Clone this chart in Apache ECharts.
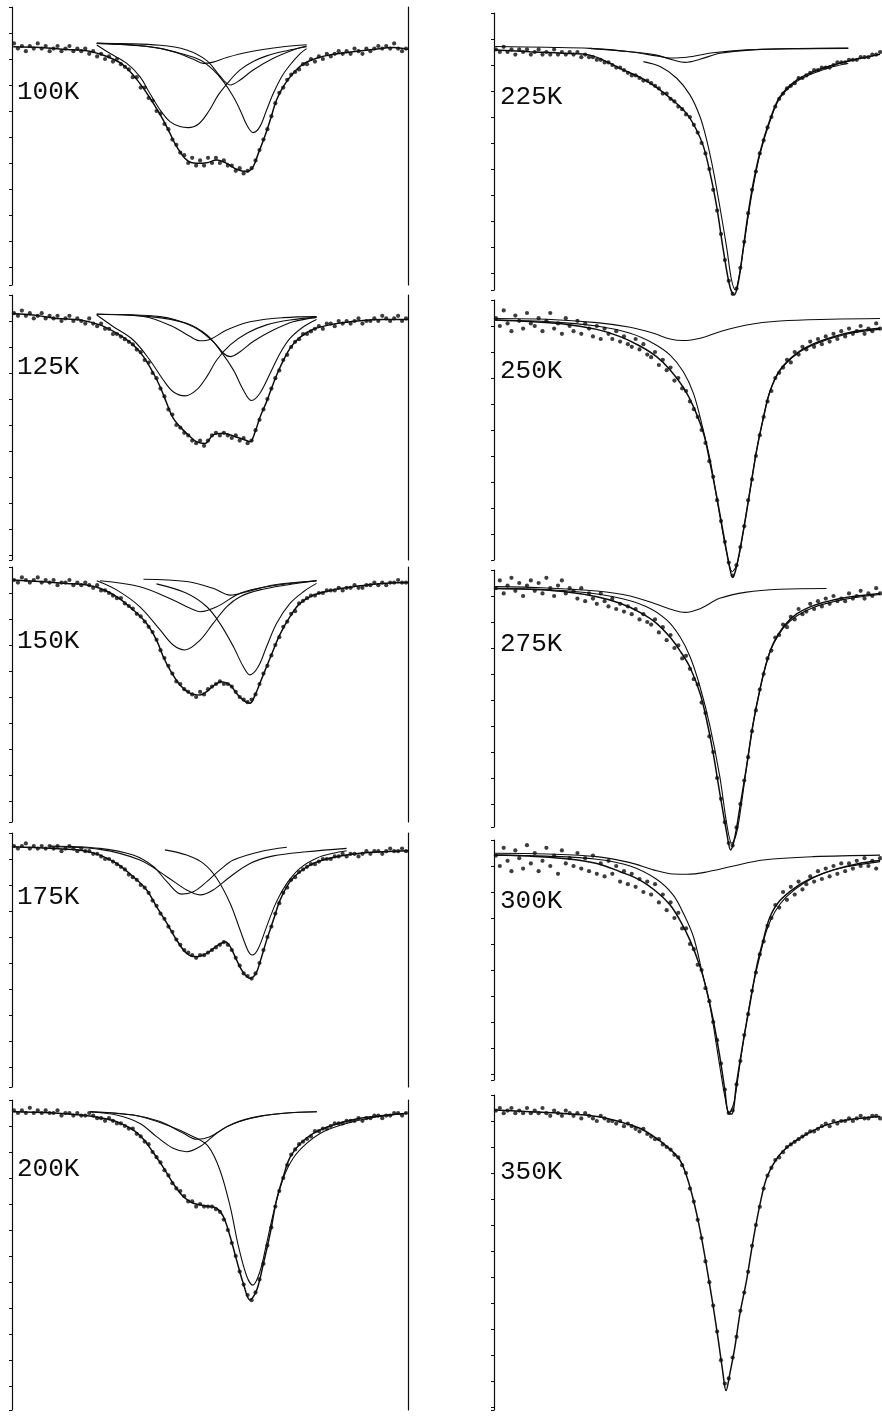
<!DOCTYPE html>
<html><head><meta charset="utf-8">
<script src="https://cdn.jsdelivr.net/npm/echarts@6/dist/echarts.min.js"></script>
<style>html,body{margin:0;padding:0;background:#fff}#c{width:882px;height:1418px}</style>
</head><body><div id="c"></div>
<script>
// channel positions (x, arbitrary velocity channel 0-100)
const channels = Array.from({length: 100}, (_, i) => i + 0.5);
const temps = ['100K','125K','150K','175K','200K','225K','250K','275K','300K','350K'];

// ---- measured spectra (absorption, arb. units, 10 units per tick) ----
const d100 = [14,16,15,17,15,16,14,16,15,17,16,15,17,16,15,17,16,17,16,18,17,19,18,20,19,21,20,22,23,24,27,27,31,31,35,36,40,41,45,47,51,53,56,57,60,58,61,59,61,58,60,58,60,59,61,61,63,62,64,63,62,59,55,51,47,42,37,33,31,28,26,25,24,22,22,20,21,19,20,18,19,18,17,18,17,18,16,17,18,16,17,16,15,16,15,16,14,16,17,16];
const d125 = [7,8,6,8,7,9,8,7,9,8,9,8,10,9,8,10,9,10,11,9,11,12,11,13,13,15,15,16,17,18,19,21,22,25,26,30,32,36,39,44,46,50,51,53,54,56,57,56,58,56,54,53,54,53,54,55,54,56,55,57,56,52,48,44,40,36,32,29,25,23,20,18,17,15,15,14,13,12,13,11,11,12,10,11,10,11,10,9,11,10,10,9,10,8,9,10,9,8,10,9];
const d150 = [5,6,4,5,6,5,4,6,5,6,5,7,6,6,5,7,6,7,6,7,8,7,9,9,10,11,12,12,14,15,16,18,19,21,23,25,28,32,35,38,41,44,45,47,48,49,50,48,49,47,46,45,44,45,45,46,48,50,51,52,51,49,45,41,38,34,30,27,23,21,18,17,14,13,12,11,11,10,10,9,9,9,8,9,8,8,7,8,8,7,7,6,7,6,7,6,6,5,6,6];
const d175 = [5,6,5,4,6,5,6,5,6,5,6,5,7,6,5,6,7,6,7,7,8,8,9,10,10,11,12,13,14,16,17,18,20,21,23,26,28,31,33,36,38,41,43,45,46,47,48,47,47,46,45,44,43,42,43,45,48,51,54,55,56,54,50,45,40,36,31,27,23,21,18,17,15,14,13,12,12,11,10,10,10,9,9,8,9,8,8,9,8,7,8,7,7,8,7,6,7,7,6,7];
const d200 = [4,5,4,5,3,5,4,5,4,5,5,4,6,5,5,6,5,6,6,5,6,7,7,8,7,8,9,9,10,11,11,13,14,16,17,20,22,24,27,29,32,34,35,37,39,39,41,40,41,41,41,42,43,46,50,55,60,66,71,75,77,74,69,63,56,49,41,35,30,25,21,19,17,16,15,14,12,12,11,11,10,9,9,9,8,8,8,7,8,7,7,6,6,7,6,6,5,5,6,5];
const d225 = [14,15,13,15,14,16,14,15,14,16,15,14,16,15,16,14,16,15,16,15,16,15,17,16,17,17,18,18,19,19,20,21,21,22,23,24,24,25,26,26,27,28,29,31,31,33,34,36,37,39,40,43,46,50,54,60,68,76,85,95,103,108,106,98,88,77,68,61,54,49,44,40,36,33,31,29,28,27,25,25,24,23,22,22,21,21,21,20,19,19,19,18,18,18,17,17,17,16,16,15];
const d250 = [7,10,4,9,12,6,8,11,5,9,10,7,12,8,5,11,9,13,7,10,12,8,13,9,11,14,10,15,11,13,15,12,16,14,17,18,15,19,17,21,22,20,25,23,27,26,31,30,34,35,39,42,45,50,55,62,68,77,85,93,101,106,102,95,87,77,69,60,52,45,39,35,30,28,26,23,24,20,21,18,19,16,18,15,17,14,16,13,15,12,14,11,13,12,10,13,11,12,9,11];
const d275 = [7,4,9,6,3,8,5,10,6,4,8,5,9,3,7,10,6,4,9,7,8,11,7,12,9,11,13,9,12,14,11,15,13,16,14,17,15,19,17,20,21,19,24,22,27,25,30,29,34,33,38,42,44,51,55,64,70,80,88,97,105,106,99,90,81,72,62,54,46,40,34,31,26,25,21,22,18,19,15,17,16,13,15,12,14,11,13,10,12,11,12,9,11,10,8,11,9,10,7,9];
const d300 = [6,10,3,8,12,4,7,11,2,9,5,12,8,3,10,6,13,4,9,7,10,5,11,7,12,6,13,9,14,8,13,10,16,12,17,13,18,15,20,16,21,17,24,21,27,24,30,28,34,34,40,42,48,50,57,62,70,77,86,96,105,104,94,85,75,67,58,51,44,39,33,30,25,26,20,23,18,21,16,19,17,14,16,12,15,11,14,10,13,9,12,9,11,8,10,7,10,8,11,7];
const d350 = [6,5,7,6,5,7,6,7,5,7,6,7,5,7,8,6,7,8,6,7,8,7,9,7,8,9,10,8,9,10,10,11,10,12,11,12,13,14,13,15,16,17,17,19,20,21,23,24,27,30,36,41,48,55,64,72,81,91,102,111,109,101,93,83,76,68,58,50,43,36,31,28,25,24,22,20,19,18,17,16,15,14,14,13,12,11,12,10,11,10,10,9,10,9,8,9,9,8,8,9];

// ---- fitted envelopes and sub-spectra [x, absorption] ----
const fit100 = [[0.3,15.3],[7.1,15.6],[13.8,16.3],[18.9,16.8],[22.2,18.1],[25.6,20.1],[28.1,22.3],[30.6,26.2],[33.2,31.3],[35.7,37.1],[38.2,43.5],[39.9,48.6],[41.6,53.7],[44.1,58.8],[46.6,60.1],[49.2,59.9],[51.7,58.8],[54.2,60.1],[56.7,62.4],[59.3,63.3],[60.9,61.4],[62.2,56.3],[63.5,51.2],[65.2,43.5],[66.8,35.8],[68.5,30.6],[71.0,25.5],[73.6,21.9],[76.9,19.7],[81.1,18.2],[86.2,17.2],[91.2,16.3],[96.3,15.6],[100,16.3]];
const c100L = [[21.4,14.6],[24.7,17.8],[29.0,21.7],[32.3,26.8],[34.8,33.2],[37.4,39.6],[39.9,44.1],[42.4,46.0],[44.5,46.4],[47.1,45.0],[49.6,40.3],[52.1,33.8],[55.1,28.1],[57.6,24.2],[60.9,21.0],[64.3,18.8],[69.4,16.8],[74.4,15.3]];
const c100R = [[21.4,14.0],[30.6,14.6],[37.4,15.9],[42.4,17.8],[47.5,20.4],[50.8,24.2],[53.4,28.7],[55.9,34.5],[57.6,39.6],[59.3,45.4],[60.9,48.3],[62.6,46.0],[64.3,39.6],[66.0,33.2],[68.1,26.8],[70.2,22.3],[72.7,18.0],[74.4,16.0]];
const c100A = [[21.4,14.0],[34.8,15.3],[41.6,17.6],[45.8,20.1],[48.3,21.7],[50.8,21.2],[54.2,19.4],[60.1,17.2],[68.5,15.3],[74.4,14.5]];
const c100B = [[21.4,14.0],[37.4,14.7],[44.1,16.5],[49.2,20.6],[52.5,26.5],[55.1,30.0],[57.6,28.1],[60.9,24.2],[66.0,19.7],[71.0,16.5],[74.4,15.0]];

const fit125 = [[0.3,7.1],[5.4,7.7],[11.3,9.0],[17.2,9.6],[22.2,11.5],[26.4,14.7],[30.6,19.2],[33.2,23.7],[35.7,30.1],[37.4,35.3],[39.1,41.7],[40.7,47.4],[42.8,51.3],[45.0,54.5],[46.6,56.4],[48.7,57.1],[50.8,53.8],[53.4,53.2],[55.9,54.2],[58.4,55.5],[60.1,56.4],[61.4,52.6],[62.6,47.1],[64.3,41.0],[66.0,34.0],[67.7,27.8],[70.2,20.5],[72.7,16.3],[76.1,13.2],[81.1,11.2],[87.9,9.9],[93.8,9.4],[100,9.4]];
const c125L = [[21.4,7.7],[25.6,12.2],[30.6,17.3],[34.8,25.0],[38.2,32.7],[40.7,37.2],[43.7,38.8],[46.6,36.5],[49.2,31.4],[51.7,25.0],[55.1,19.2],[59.3,14.7],[64.3,11.5],[70.2,9.6],[76.9,8.6]];
const c125R = [[21.4,7.4],[34.8,8.3],[44.1,10.9],[49.2,15.4],[52.5,21.2],[55.9,28.8],[58.4,36.5],[60.5,40.6],[62.6,37.8],[65.2,30.1],[67.7,22.4],[70.2,16.7],[73.6,12.2],[76.9,9.4]];
const c125A = [[21.4,7.4],[33.2,8.3],[40.7,12.2],[45.0,16.0],[47.5,17.6],[50.0,17.1],[54.2,13.5],[60.1,10.3],[68.5,8.7],[76.9,8.3]];
const c125B = [[21.4,7.4],[37.4,8.3],[45.8,12.2],[50.8,17.9],[53.4,22.4],[55.1,23.7],[57.6,21.8],[60.9,17.9],[66.0,13.5],[71.0,10.3],[76.9,8.6]];

const fit150 = [[0.3,5.0],[7.1,5.6],[13.8,6.3],[18.9,6.9],[22.2,8.2],[26.4,11.4],[30.6,16.5],[34.0,21.7],[36.5,28.1],[38.2,34.5],[39.9,39.6],[42.4,45.4],[45.0,48.6],[47.5,49.2],[49.2,47.9],[50.8,45.8],[52.9,44.1],[55.1,45.4],[56.7,48.6],[58.4,51.2],[60.1,52.4],[61.4,49.2],[62.6,44.7],[64.3,38.3],[66.0,31.9],[67.7,25.8],[70.2,19.1],[72.7,14.0],[76.1,10.8],[81.1,8.8],[86.2,7.6],[92.1,6.5],[100,6.0]];
const c150L = [[21.4,5.3],[26.4,8.8],[32.3,15.3],[37.4,24.2],[40.7,30.0],[43.7,31.9],[47.5,28.1],[50.8,21.7],[54.2,15.3],[57.6,11.4],[62.6,8.8],[69.4,6.9],[76.9,5.3]];
const c150A = [[22.2,5.3],[32.3,7.6],[40.7,12.7],[45.0,15.9],[47.5,17.2],[51.7,15.3],[57.6,10.1],[64.3,7.6],[76.9,5.3]];
const c150R = [[36.5,6.5],[44.1,10.1],[49.2,15.3],[52.5,21.7],[55.9,30.6],[58.4,38.3],[60.1,41.5],[62.2,38.3],[64.3,30.6],[66.8,21.7],[70.2,14.0],[73.6,9.5],[76.9,6.3]];
const c150B = [[33.2,4.7],[44.1,5.6],[50.8,8.2],[55.1,10.8],[59.3,9.5],[66.0,6.9],[76.9,5.3]];

const fit175 = [[0.3,5.3],[9.6,5.9],[18.0,6.8],[22.2,8.5],[26.4,11.7],[30.6,16.8],[34.0,21.9],[36.5,28.3],[39.1,34.7],[41.6,41.2],[44.1,46.3],[46.6,47.6],[49.2,46.3],[51.7,43.5],[53.8,41.8],[55.1,43.7],[56.7,48.8],[58.4,53.7],[60.1,55.9],[61.6,54.0],[62.8,48.8],[64.3,41.2],[66.0,33.5],[67.7,25.8],[70.2,18.7],[72.7,14.9],[76.1,11.7],[81.1,9.4],[87.9,7.8],[93.8,7.2],[100,6.8]];
const c175A = [[9.6,5.0],[22.2,5.9],[30.6,8.5],[35.7,12.9],[39.1,18.7],[42.8,23.5],[45.8,22.6],[49.2,18.7],[52.5,14.2],[55.9,10.4],[62.6,7.2],[69.4,5.5]];
const c175B = [[9.6,5.3],[22.2,6.3],[32.3,10.4],[39.1,16.8],[44.1,21.9],[47.5,23.8],[50.8,21.9],[55.1,16.8],[60.1,11.7],[66.0,8.8],[74.4,7.2],[84.5,5.9]];
const c175R = [[38.6,6.5],[44.1,8.5],[48.3,11.7],[51.7,17.4],[55.1,27.1],[57.6,37.3],[59.7,45.6],[60.7,46.9],[62.2,44.4],[64.3,36.0],[66.8,26.4],[69.4,19.4],[72.7,13.6],[76.9,9.7],[81.1,7.8],[84.5,6.8]];

const fit200 = [[0.3,4.5],[9.6,4.9],[18.0,5.9],[22.2,6.8],[26.4,8.3],[30.6,11.5],[33.2,15.1],[35.7,20.3],[38.2,25.9],[40.7,32.1],[43.3,37.2],[45.8,39.7],[49.2,40.8],[51.7,41.7],[53.4,44.9],[55.1,52.6],[56.7,61.5],[58.4,70.5],[60.1,76.9],[61.8,73.1],[63.5,62.8],[65.2,51.3],[66.8,38.5],[68.5,29.5],[70.2,22.1],[72.7,16.9],[76.1,12.8],[81.1,9.6],[87.0,7.3],[93.8,6.0],[99.7,5.1]];
const c200L = [[19.7,4.5],[26.4,5.8],[32.3,9.0],[36.5,14.1],[40.7,18.6],[44.1,19.9],[47.5,17.9],[51.7,12.8],[55.9,9.0],[62.6,6.2],[70.2,4.9],[77.0,4.5]];
const c200S = [[19.7,4.5],[30.6,5.8],[37.4,8.3],[43.3,12.8],[46.6,15.1],[50.0,14.1],[54.2,10.3],[60.1,7.1],[68.5,5.1],[77.0,4.5]];
const c200R = [[19.7,4.5],[30.6,5.8],[39.1,9.6],[45.8,14.1],[49.6,17.9],[52.5,26.9],[55.1,41.0],[57.2,56.4],[59.3,67.9],[60.8,71.2],[62.6,66.0],[64.3,55.1],[66.4,41.0],[68.5,30.1],[71.0,22.4],[74.4,16.7],[78.6,12.2],[84.5,9.0],[91.2,6.7],[99.7,5.1]];

const fit225 = [[0.3,14.2],[9.3,14.9],[17.9,15.5],[24.7,16.2],[29.0,18.7],[33.3,21.9],[37.6,24.7],[41.9,28.6],[46.2,33.7],[49.7,38.8],[52.2,45.0],[54.0,51.4],[55.7,61.7],[57.4,74.5],[59.1,91.2],[60.8,105.3],[61.9,108.5],[63.0,103.3],[64.3,89.9],[65.5,77.1],[66.8,65.5],[68.6,53.3],[71.1,41.2],[73.7,32.2],[78.0,25.8],[82.3,22.6],[87.5,20.0],[92.6,18.1],[99.5,15.9]];
const c225M = [[38.5,18.7],[42.8,20.6],[47.1,25.1],[50.5,31.5],[53.1,39.9],[54.8,48.8],[56.5,60.4],[58.2,74.5],[60.0,90.5],[61.2,102.5],[62.2,106.5],[63.2,101.0],[64.3,90.4],[65.5,78.3],[66.8,66.8],[68.6,54.0],[71.1,41.8],[73.7,32.7],[78.0,26.4],[82.3,23.2],[87.5,20.6],[91.3,19.4]];
const c225S1 = [[24.7,13.6],[35.1,14.9],[41.9,16.2],[46.2,18.1],[49.2,19.0],[53.1,17.8],[58.2,15.5],[66.8,14.2],[78.0,13.7],[91.3,13.6]];
const c225S2 = [[0.3,12.9],[13.6,13.2],[24.7,13.6],[35.1,14.9],[41.9,16.5],[45.4,17.3],[49.7,17.0],[56.5,15.3],[65.1,14.2],[78.0,13.7],[91.3,13.5]];

const fit250 = [[0.3,7.7],[9.3,8.3],[17.9,9.2],[26.5,11.3],[32.5,14.1],[37.6,17.7],[41.9,21.8],[45.4,26.9],[48.8,33.6],[51.4,41.0],[54.0,51.3],[55.7,62.8],[57.4,75.6],[59.1,89.7],[60.7,102.6],[61.5,106.7],[62.5,102.6],[64.3,88.5],[66.0,73.1],[67.7,57.7],[69.4,45.5],[71.1,35.3],[73.7,26.9],[78.0,20.5],[82.3,16.9],[87.5,14.1],[92.6,12.2],[99.5,10.9]];
const c250S = [[0.3,7.1],[13.6,7.4],[26.5,8.7],[35.1,10.5],[41.1,12.8],[45.4,15.0],[48.8,15.6],[53.1,14.7],[58.2,12.2],[65.1,9.6],[73.7,8.1],[86.6,7.4],[99.5,7.1]];
const c250M = [[0.3,7.7],[13.6,8.3],[26.5,10.0],[35.1,12.8],[41.1,16.7],[45.4,21.2],[48.8,27.6],[51.4,35.9],[53.5,47.4],[55.7,61.5],[57.8,79.5],[60.0,97.4],[61.4,104.5],[62.7,101.3],[64.3,88.5],[66.0,73.1],[67.7,57.7],[69.4,45.5],[71.1,35.3],[73.7,27.2],[78.0,20.8],[82.3,17.3],[87.5,14.5],[92.6,12.6],[99.5,11.3]];

const fit275 = [[0.3,7.1],[9.3,7.4],[17.9,8.3],[26.5,10.3],[32.5,12.8],[37.6,16.3],[41.9,20.5],[45.4,25.9],[47.9,31.0],[50.5,37.4],[53.1,47.4],[54.8,57.7],[56.5,70.5],[58.2,85.9],[60.0,101.3],[61.0,107.7],[62.1,102.6],[63.4,91.0],[65.1,75.6],[66.8,59.0],[68.6,45.5],[70.3,35.3],[72.0,28.2],[74.6,21.8],[78.0,16.9],[82.3,13.7],[87.5,11.5],[93.5,10.0],[99.5,9.0]];
const c275S = [[0.3,6.4],[13.6,6.9],[26.5,8.1],[35.1,10.0],[41.9,13.2],[46.2,15.4],[49.2,16.3],[53.1,14.9],[58.2,10.9],[65.1,8.5],[73.7,7.4],[85.7,7.1]];
const c275M = [[0.3,7.1],[17.9,7.9],[30.8,10.3],[39.3,14.1],[44.5,19.2],[47.9,25.6],[50.5,33.3],[53.1,44.9],[55.7,60.3],[58.2,79.5],[60.1,98.7],[61.3,105.1],[62.5,101.3],[63.8,89.7],[65.1,75.6],[66.8,59.0],[68.6,45.5],[70.3,35.3],[72.0,28.5],[74.6,22.3],[78.0,17.7],[82.3,14.4],[87.5,12.2],[93.5,10.5],[99.5,9.4]];

const fit300 = [[0.3,5.8],[9.3,6.2],[17.9,7.1],[26.5,9.0],[32.5,12.2],[37.6,15.4],[41.9,19.9],[45.4,25.0],[47.9,30.8],[50.5,38.5],[53.1,48.7],[54.8,57.7],[56.5,69.2],[58.2,83.3],[59.5,96.2],[60.4,105.1],[61.3,105.4],[62.5,93.6],[64.3,76.9],[66.0,62.8],[67.7,48.7],[69.4,38.5],[71.1,29.7],[73.7,23.3],[78.0,17.9],[82.3,14.4],[87.5,11.5],[93.5,9.2],[99.5,7.9]];
const c300S = [[0.3,5.1],[13.6,5.4],[26.5,6.4],[35.1,8.7],[41.1,11.5],[46.2,13.1],[49.7,13.2],[54.8,12.3],[61.7,10.0],[69.4,7.7],[82.3,6.4],[99.5,5.8]];
const c300M = [[0.3,5.8],[13.6,6.2],[26.5,7.4],[35.1,10.0],[41.9,15.1],[46.2,21.2],[48.8,28.2],[51.4,37.2],[53.5,50.0],[55.7,64.1],[57.8,83.3],[59.5,98.7],[60.6,104.9],[61.9,100.6],[63.4,85.9],[65.1,69.9],[66.8,55.8],[68.6,44.2],[70.3,34.6],[72.4,27.6],[75.4,21.8],[79.7,16.7],[84.9,12.8],[90.9,10.3],[99.5,8.3]];

const fit350 = [[0.3,5.8],[9.3,6.4],[17.9,7.1],[26.5,8.3],[32.5,10.3],[37.6,12.8],[41.9,16.7],[45.4,20.9],[47.9,25.0],[49.7,31.4],[51.4,40.4],[53.1,51.9],[54.8,66.0],[56.5,81.4],[57.8,94.2],[58.9,105.8],[59.8,113.7],[60.8,107.1],[62.1,96.8],[63.4,84.0],[65.1,71.2],[66.8,55.8],[68.6,41.7],[70.3,31.7],[72.9,24.4],[76.3,19.2],[80.6,15.0],[85.7,11.5],[90.9,9.6],[99.5,8.3]];

const spectra = {
  '100K': {data: d100, fit: fit100, comps: [c100L, c100R, c100A, c100B]},
  '125K': {data: d125, fit: fit125, comps: [c125L, c125R, c125A, c125B]},
  '150K': {data: d150, fit: fit150, comps: [c150L, c150A, c150R, c150B]},
  '175K': {data: d175, fit: fit175, comps: [c175A, c175B, c175R]},
  '200K': {data: d200, fit: fit200, comps: [c200L, c200S, c200R]},
  '225K': {data: d225, fit: fit225, comps: [c225M, c225S1, c225S2]},
  '250K': {data: d250, fit: fit250, comps: [c250S, c250M]},
  '275K': {data: d275, fit: fit275, comps: [c275S, c275M]},
  '300K': {data: d300, fit: fit300, comps: [c300S, c300M]},
  '350K': {data: d350, fit: fit350, comps: []}
};

// ---- layout (pixels) ----
const frames = {
  '100K': {x: 12, w: 396, top: 7, bottom: 285, border: true, lab: [17, 93]},
  '125K': {x: 12, w: 396, top: 295, bottom: 560, border: true, lab: [17, 368]},
  '150K': {x: 12, w: 396, top: 567, bottom: 822, border: true, lab: [17, 642]},
  '175K': {x: 12, w: 396, top: 833, bottom: 1087, border: true, lab: [17, 898]},
  '200K': {x: 12, w: 396, top: 1100, bottom: 1410, border: true, lab: [17, 1170]},
  '225K': {x: 494, w: 388, top: 13, bottom: 290, border: false, lab: [500, 98]},
  '250K': {x: 494, w: 388, top: 300, bottom: 560, border: false, lab: [500, 372]},
  '275K': {x: 494, w: 388, top: 570, bottom: 827, border: false, lab: [500, 645]},
  '300K': {x: 494, w: 388, top: 840, bottom: 1080, border: false, lab: [500, 902]},
  '350K': {x: 494, w: 388, top: 1095, bottom: 1410, border: false, lab: [500, 1173]}
};
const PX_PER_UNIT = 2.6;
const INK = '#0d0d0d';

const grid = [], xAxis = [], yAxis = [], series = [], graphic = [];
temps.forEach((t, i) => {
  const f = frames[t], s = spectra[t];
  const h = f.bottom - f.top;
  grid.push({left: f.x, top: f.top, width: f.w, height: h});
  xAxis.push({type: 'value', gridIndex: i, min: 0, max: 100, show: false});
  const yMax = h / PX_PER_UNIT;
  const yi = yAxis.length;
  yAxis.push({
    type: 'value', gridIndex: i, inverse: true, min: 0, max: yMax, interval: 10,
    axisLine: {show: true, onZero: false, lineStyle: {color: INK, width: 1.2}},
    axisTick: {show: true, length: 3, lineStyle: {color: INK, width: 1}},
    axisLabel: {show: false}, splitLine: {show: false}
  });
  if (f.border) {
    yAxis.push({
      type: 'value', gridIndex: i, position: 'right', inverse: true, min: 0, max: yMax,
      axisLine: {show: true, onZero: false, lineStyle: {color: INK, width: 1.2}},
      axisTick: {show: false}, axisLabel: {show: false}, splitLine: {show: false}
    });
  }
  series.push({
    type: 'scatter', xAxisIndex: i, yAxisIndex: yi, clip: false, silent: true,
    symbolSize: 4.2, itemStyle: {color: INK},
    data: channels.map((x, k) => [x, s.data[k]])
  });
  series.push({
    type: 'line', xAxisIndex: i, yAxisIndex: yi, clip: false, silent: true,
    smooth: 0.35, showSymbol: false, lineStyle: {color: INK, width: 1.5},
    data: s.fit
  });
  s.comps.forEach(c => series.push({
    type: 'line', xAxisIndex: i, yAxisIndex: yi, clip: false, silent: true,
    smooth: 0.35, showSymbol: false, lineStyle: {color: INK, width: 1.1},
    data: c
  }));
  graphic.push({
    type: 'text', left: f.lab[0], top: f.lab[1] - 14, silent: true,
    style: {text: t, font: '26px "Liberation Mono", "DejaVu Sans Mono", monospace', fill: INK}
  });
});

const chart = echarts.init(document.getElementById('c'), null, {renderer: 'canvas'});
chart.setOption({animation: false, backgroundColor: '#fff', grid, xAxis, yAxis, series, graphic});
</script>
</body></html>
